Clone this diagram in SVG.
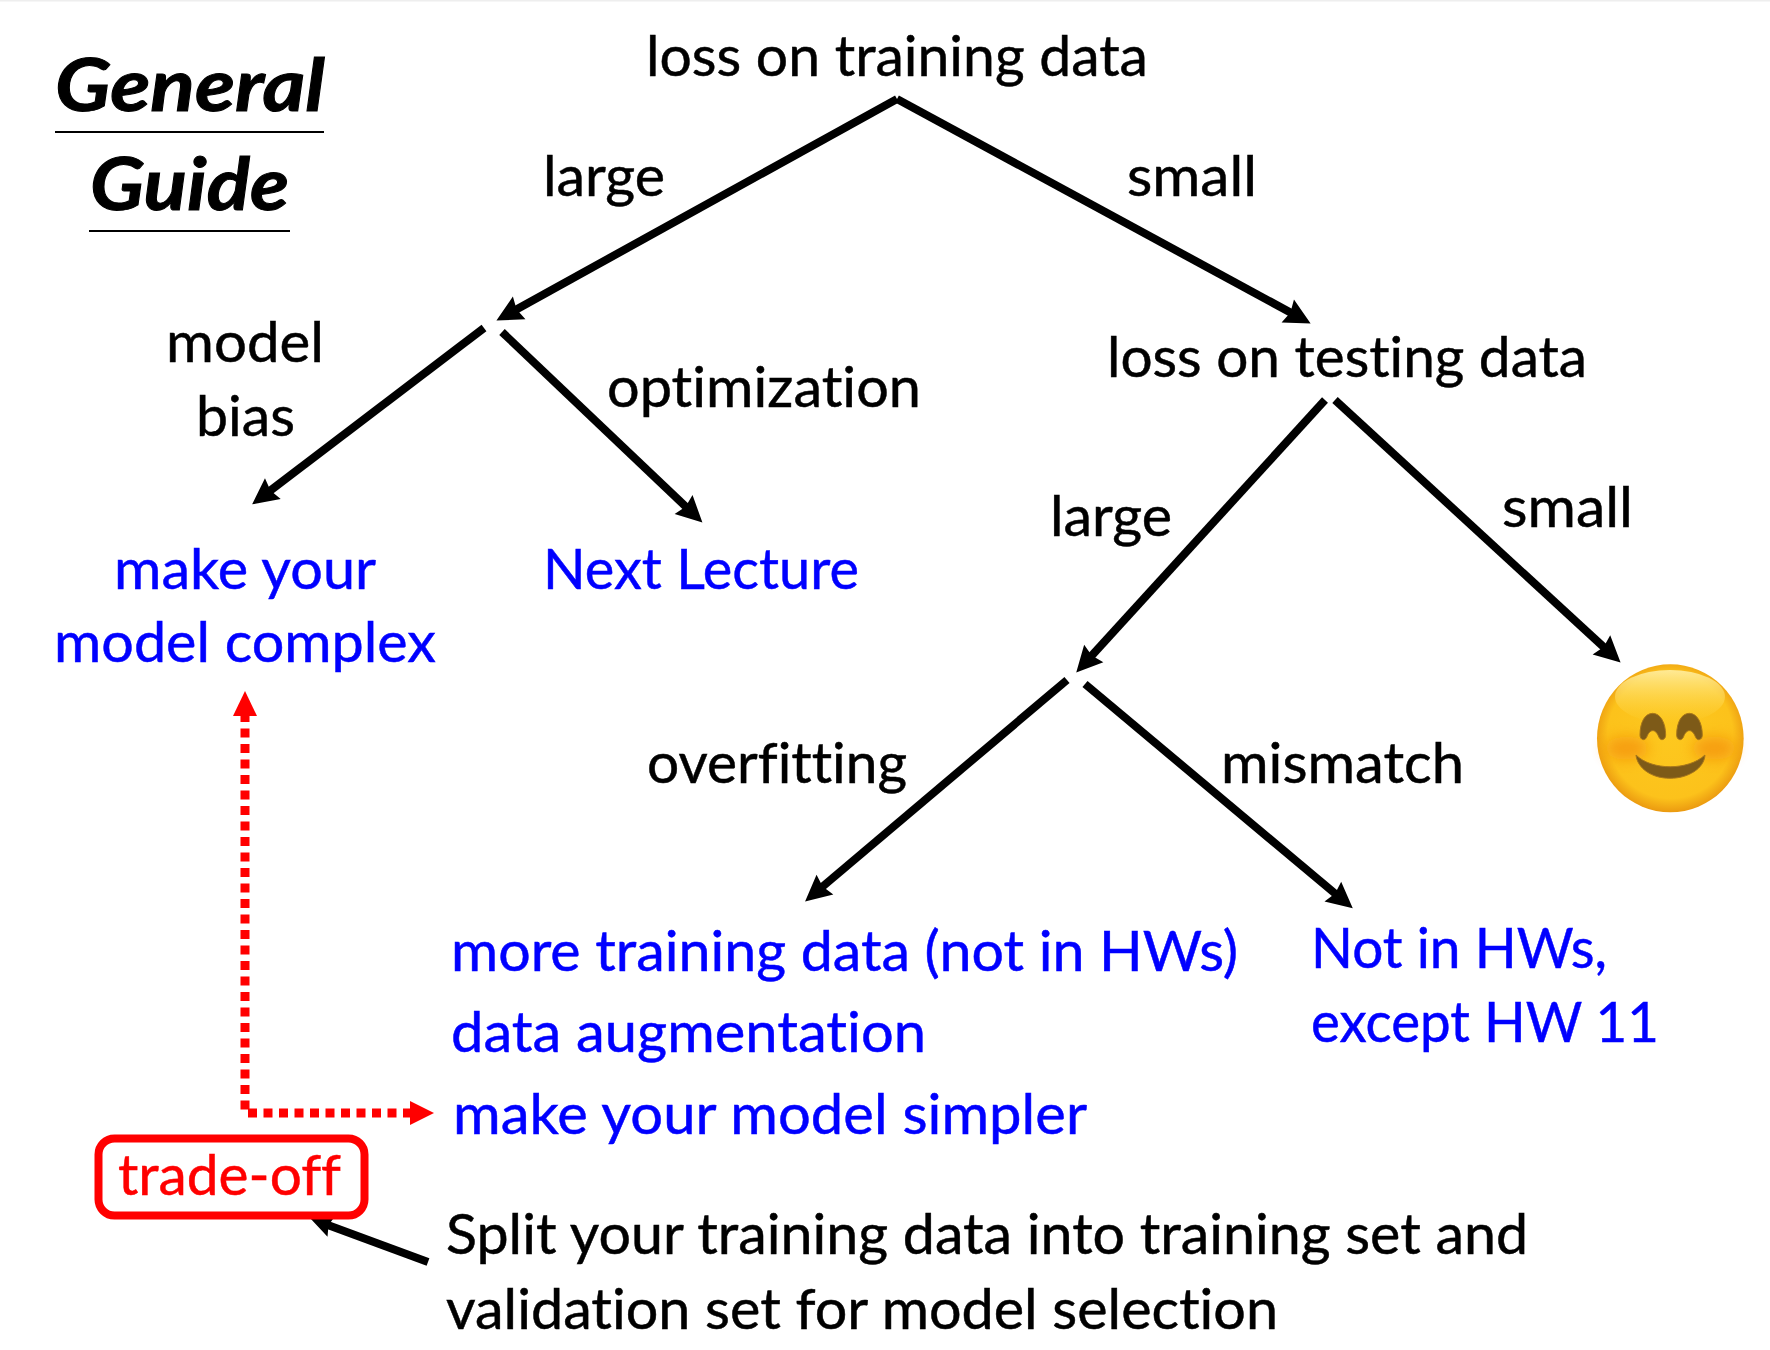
<svg xmlns="http://www.w3.org/2000/svg" width="1770" height="1350" viewBox="0 0 1770 1350">
<style>
text{font-family:"Lato","Open Sans","Liberation Sans",sans-serif;font-size:57px;fill:#000;stroke:#000;stroke-width:.5;font-variant-ligatures:none}
.b{fill:#0000ff;stroke:#0000ff}
.r{fill:#ff0000;stroke:#ff0000}
.h{font-weight:700;font-style:italic;font-size:73px;stroke-width:1}
.c{stroke:#000;stroke-width:8;fill:none;marker-end:url(#ah)}
.d{stroke:#f00;stroke-width:9;fill:none;stroke-dasharray:9 6.5}
.u{stroke:#000;stroke-width:2.2}
</style>
<defs>
<marker id="ah" markerUnits="userSpaceOnUse" markerWidth="30" markerHeight="28" refX="13" refY="13" orient="auto" overflow="visible"><path d="M0 0L26 13L0 26L3 13Z" fill="#000"/></marker>
<marker id="ah2" markerUnits="userSpaceOnUse" markerWidth="24" markerHeight="24" refX="11" refY="11" orient="auto" overflow="visible"><path d="M0 0L22 11L0 22L3 11Z" fill="#000"/></marker>
<radialGradient id="face" cx="50%" cy="48%" r="52%"><stop offset="0" stop-color="#fdc81f"/><stop offset=".82" stop-color="#fcc21b"/><stop offset="1" stop-color="#eb9a10"/></radialGradient>
<linearGradient id="hl" x1="0" y1="0" x2="0" y2="1"><stop offset="0" stop-color="#ffec9c" stop-opacity=".95"/><stop offset="1" stop-color="#ffdc4a" stop-opacity="0"/></linearGradient>
<filter id="bl" x="-60%" y="-60%" width="220%" height="220%"><feGaussianBlur stdDeviation="20"/></filter>
</defs>
<rect width="1770" height="1350" fill="#fff"/>
<rect width="1770" height="1.5" fill="#eeeeee"/>
<g id="title">
<text class="h" x="55" y="111" textLength="270" lengthAdjust="spacingAndGlyphs">General</text>
<line class="u" x1="55" y1="132" x2="324" y2="132"/>
<text class="h" x="90" y="210" textLength="199" lengthAdjust="spacingAndGlyphs">Guide</text>
<line class="u" x1="89" y1="231" x2="290" y2="231"/>
</g>
<g id="connectors">
<line class="c" x1="897" y1="99" x2="507.8" y2="314.2"/>
<line class="c" x1="897" y1="99" x2="1299.2" y2="317.2"/>
<line class="c" x1="484" y1="328" x2="262.5" y2="496.5"/>
<line class="c" x1="502" y1="332" x2="693" y2="513.5"/>
<line class="c" x1="1325" y1="400" x2="1085" y2="663"/>
<line class="c" x1="1335" y1="400" x2="1611" y2="653.7"/>
<line class="c" x1="1067" y1="680" x2="815" y2="893"/>
<line class="c" x1="1085" y1="684" x2="1342.8" y2="900"/>
<line x1="428" y1="1262" x2="321" y2="1222.5" stroke="#000" stroke-width="8" marker-end="url(#ah2)"/>
<path class="d" d="M245 713V1113H411"/>
<path d="M245 691L257 716H233Z" fill="#f00"/>
<path d="M434 1113L410 1101V1125Z" fill="#f00"/>
</g>
<g id="n-train"><text x="646" y="76" textLength="502" lengthAdjust="spacingAndGlyphs">loss on training data</text></g>
<g id="l-large1"><text x="543" y="196" textLength="122" lengthAdjust="spacingAndGlyphs">large</text></g>
<g id="l-small1"><text x="1127" y="196" textLength="130" lengthAdjust="spacingAndGlyphs">small</text></g>
<g id="l-model"><text x="166" y="362" textLength="158" lengthAdjust="spacingAndGlyphs">model</text><text x="196" y="436" textLength="99" lengthAdjust="spacingAndGlyphs">bias</text></g>
<g id="l-opt"><text x="607" y="407" textLength="314" lengthAdjust="spacingAndGlyphs">optimization</text></g>
<g id="n-complex"><text class="b" x="114" y="589" textLength="262" lengthAdjust="spacingAndGlyphs">make your</text><text class="b" x="54" y="662" textLength="382" lengthAdjust="spacingAndGlyphs">model complex</text></g>
<g id="n-next"><text class="b" x="543" y="589" textLength="316" lengthAdjust="spacingAndGlyphs">Next Lecture</text></g>
<g id="n-test"><text x="1107" y="377" textLength="480" lengthAdjust="spacingAndGlyphs">loss on testing data</text></g>
<g id="l-large2"><text x="1050" y="536" textLength="122" lengthAdjust="spacingAndGlyphs">large</text></g>
<g id="l-small2"><text x="1502" y="527" textLength="131" lengthAdjust="spacingAndGlyphs">small</text></g>
<g id="l-over"><text x="647" y="783" textLength="260" lengthAdjust="spacingAndGlyphs">overfitting</text></g>
<g id="l-mis"><text x="1221" y="783" textLength="243" lengthAdjust="spacingAndGlyphs">mismatch</text></g>
<g id="n-more">
<text class="b" x="451" y="971" textLength="787" lengthAdjust="spacingAndGlyphs">more training data (not in HWs)</text>
<text class="b" x="451" y="1052" textLength="475" lengthAdjust="spacingAndGlyphs">data augmentation</text>
<text class="b" x="453" y="1134" textLength="634" lengthAdjust="spacingAndGlyphs">make your model simpler</text>
</g>
<g id="n-hw"><text class="b" x="1311" y="968" textLength="296" lengthAdjust="spacingAndGlyphs">Not in HWs,</text><text class="b" x="1311" y="1042" textLength="348" lengthAdjust="spacingAndGlyphs">except HW 11</text></g>
<g id="n-trade"><rect x="98.5" y="1138.5" width="266" height="77" rx="16" fill="none" stroke="#f00" stroke-width="8"/><text class="r" x="118" y="1195" textLength="223" lengthAdjust="spacingAndGlyphs">trade-off</text></g>
<g id="n-split"><text x="446" y="1254" textLength="1082" lengthAdjust="spacingAndGlyphs">Split your training data into training set and</text><text x="446" y="1329" textLength="832" lengthAdjust="spacingAndGlyphs">validation set for model selection</text></g>
<g id="emoji" transform="translate(1570 640) scale(.3333)">
<ellipse cx="301" cy="295" rx="220" ry="222" fill="url(#face)"/>
<ellipse cx="170" cy="325" rx="65" ry="35" fill="#f5940a" opacity=".8" filter="url(#bl)"/>
<ellipse cx="432" cy="325" rx="65" ry="35" fill="#f5940a" opacity=".8" filter="url(#bl)"/>
<ellipse cx="300" cy="170" rx="165" ry="80" fill="url(#hl)"/>
<g fill="#7d5a18" stroke="#a8761a" stroke-width="3">
<path d="M210 285C210 245 226 220 248 220C272 220 287 250 287 285C287 300 272 304 267 292C261 277 255 272 248 272C241 272 234 280 230 292C224 304 210 300 210 285Z"/>
<path d="M320 285C320 245 336 220 358 220C382 220 397 250 397 285C397 300 382 304 377 292C371 277 365 272 358 272C351 272 344 280 340 292C334 304 320 300 320 285Z"/>
<path d="M198 345C245 392 355 392 405 345C403 385 355 415 300 415C245 415 202 385 198 345Z"/>
</g>
</g>
</svg>
